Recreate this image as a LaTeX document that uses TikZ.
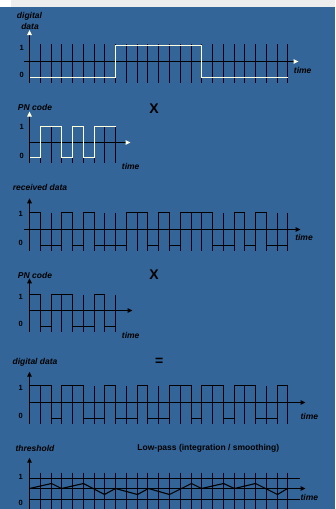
\documentclass[tikz,border=0pt]{standalone}
\usepackage{fontspec}
\setmainfont{Liberation Sans}
\usetikzlibrary{arrows.meta}

\definecolor{bgblue}{RGB}{51,101,152}
\definecolor{sigwhite}{RGB}{255,255,225}

% chip signal: style, y of level 0, y of level 1, list of chips
\newcommand{\chipline}[4]{%
  \draw[#1] (29.5,#2) \foreach \v [count=\i] in {#4} {
    |- ({int(29.5+\i*10.77)+0.5},{#2+\v*(#3-#2)}) };
}
% ticks: last index, top, bottom
\newcommand{\chipticks}[3]{%
  \foreach \i in {0,...,#1}
    \draw[tickline] ({int(29.5+\i*10.77)+0.5},#2) -- ({int(29.5+\i*10.77)+0.5},#3);
}

\begin{document}
\begin{tikzpicture}[x=1pt, y=-1pt,
  lbl/.style={font=\bfseries\itshape\fontsize{8.5}{9}\selectfont, inner sep=0pt},
  lvl/.style={font=\bfseries\fontsize{7.5}{8}\selectfont, inner sep=0pt},
  op/.style={font=\bfseries\fontsize{14}{14}\selectfont, inner sep=0pt},
  tickline/.style={line width=1.5pt, black!90!blue},
  axis/.style={line width=1pt, black, -{Triangle[length=5pt,width=4.5pt]}},
  waxis/.style={line width=1pt, black, -{Triangle[length=5pt,width=4.5pt,color=sigwhite]}},
  wsig/.style={line width=1.7pt, sigwhite},
  bsig/.style={line width=1.7pt, black}]

  \useasboundingbox (0,0) rectangle (335,509);
  \fill[bgblue] (0,0) rectangle (335,509);
  \fill[white] (0,0) rectangle (335,7);
  \fill[black!7] (11,0) rectangle (335,6.5);

  % --- digital data
  \chipticks{24}{44}{83}
  \coordinate (o1) at (29.5,83);
  \coordinate (h1) at (24,61.5);
  \draw[waxis] (o1) -- (29.5,30) coordinate (v1);
  \draw[waxis] (h1) -- (298.5,61.5) coordinate (e1);
  \chipline{wsig}{77.5}{45.5}{0,0,0,0,0,0,0,0,1,1,1,1,1,1,1,1,0,0,0,0,0,0,0,0}
  \node[lbl] (dlab1) at (29.5,16.7) {digital};
  \node[lbl] (dlab2) at (30,26) {data};
  \node[lvl] (one1) at (21.7,47.7) {1};
  \node[lvl] (zero1) at (21.7,75) {0};
  \node[lbl] (time1) at (302.7,70) {time};

  % --- PN code
  \chipticks{8}{126}{163.3}
  \coordinate (o2) at (29.5,163.3);
  \draw[waxis] (o2) -- (29.5,111.5) coordinate (v2);
  \draw[waxis] (29.5,142.5) coordinate (h2) -- (130.5,142.5) coordinate (e2);
  \chipline{wsig}{157.5}{126.5}{0,1,1,0,1,0,1,1}
  \node[lbl] (pn1) at (35,107.5) {PN code};
  \node[op] (mul1) at (154,108.3) {X};
  \node[lvl] (one2) at (21.7,127.3) {1};
  \node[lvl] (zero2) at (21.7,156) {0};
  \node[lbl] (time2) at (130.7,166.7) {time};

  % --- received data
  \chipticks{24}{212.5}{250.7}
  \coordinate (o3) at (29.5,250.7);
  \draw[axis] (o3) -- (29.5,198.3) coordinate (v3);
  \draw[axis] (24,229.5) coordinate (h3) -- (300.5,229.5) coordinate (e3);
  \chipline{bsig}{245.5}{212.5}{1,0,0,1,0,1,0,0,0,1,1,0,1,0,1,1,1,0,0,1,0,1,0,0}
  \node[lbl] (rx) at (40,187.7) {received data};
  \node[lvl] (one3) at (20.7,214.3) {1};
  \node[lvl] (zero3) at (20.7,242.7) {0};
  \node[lbl] (time3) at (304,237.3) {time};

  % --- PN code again
  \chipticks{8}{294.5}{332.3}
  \coordinate (o4) at (29.5,332.3);
  \draw[axis] (o4) -- (29.5,278.3) coordinate (v4);
  \draw[axis] (29.5,310.5) coordinate (h4) -- (132.5,310.5) coordinate (e4);
  \chipline{bsig}{326.5}{294.5}{1,0,1,1,0,0,1,0}
  \node[lbl] (pn2) at (35,275) {PN code};
  \node[op] (mul2) at (154,275) {X};
  \node[lvl] (one4) at (20.7,297.3) {1};
  \node[lvl] (zero4) at (20.7,324.3) {0};
  \node[lbl] (time4) at (130.7,335) {time};

  % --- recovered digital data
  \chipticks{24}{385.5}{424}
  \coordinate (o5) at (29.5,424);
  \draw[axis] (o5) -- (29.5,371.7) coordinate (v5);
  \draw[axis] (29.5,402.5) coordinate (h5) -- (305.5,402.5) coordinate (e5);
  \chipline{bsig}{418.5}{385.5}{1,1,0,1,1,0,0,1,0,0,1,0,0,1,1,0,1,1,0,1,1,0,0,1}
  \node[lbl] (dd) at (35,362.3) {digital data};
  \node[op] (eq) at (159.3,361.7) {=};
  \node[lvl] (one5) at (20.7,388.3) {1};
  \node[lvl] (zero5) at (20.7,415.7) {0};
  \node[lbl] (time5) at (309.3,416) {time};

  % --- threshold
  \chipticks{24}{472.7}{509}
  \coordinate (o6) at (29.5,509);
  \draw[axis] (o6) -- (29.5,457.7) coordinate (v6);
  \draw[line width=1pt] (29.5,478.5) -- (300,478.5);
  \draw[line width=1pt] (29.5,499.5) -- (300,499.5);
  \draw[axis] (29.5,488.5) coordinate (h6) -- (305.5,488.5) coordinate (e6);
  \draw[bsig, line width=1.1pt] plot coordinates {
    (29.5,488.5) (51.5,483.5) (61.5,488.5) (83.5,483.5)
    (104.5,494.5) (115.5,488.5) (137.5,494.5) (148.5,488.5)
    (169.5,494.5) (191.5,483.5) (201.5,488.5) (223.5,483.5)
    (234.5,488.5) (255.5,483.5) (277.5,494.5) (287.5,488.5)};
  \node[lbl] (thr) at (35,448.3) {threshold};
  \node[lvl, font=\bfseries\fontsize{8.5}{9}\selectfont] (lp) at (208.3,448.3) {Low-pass (integration / smoothing)};
  \node[lvl] (one6) at (20.7,476.7) {1};
  \node[lvl] (zero6) at (20.7,503.3) {0};
  \node[lbl] (time6) at (309.3,497) {time};
\end{tikzpicture}
\end{document}
